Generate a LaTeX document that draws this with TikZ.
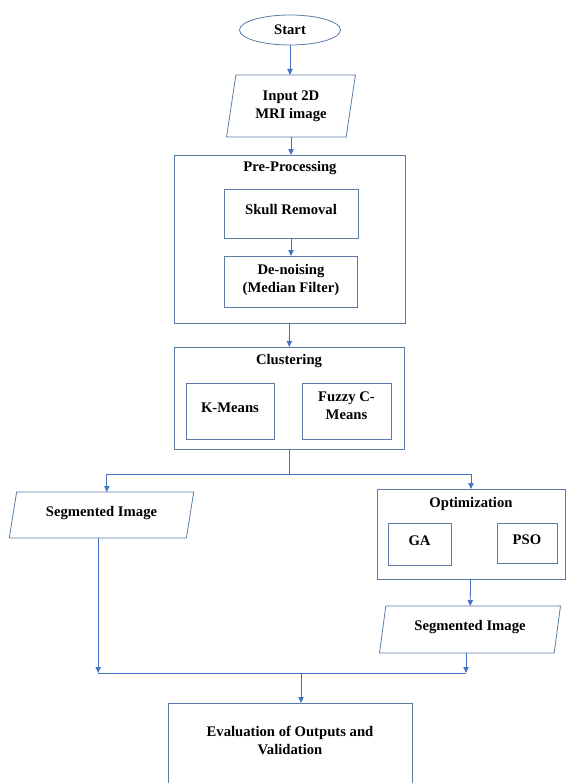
\documentclass[tikz,border=0pt]{standalone}
\usepackage{fontspec}
\setmainfont{Liberation Serif}
\usetikzlibrary{shapes.geometric,arrows.meta}
\definecolor{boxline}{HTML}{5A7BA6}
\definecolor{arrline}{HTML}{4472C4}

\begin{document}
\begin{tikzpicture}[x=0.75pt, y=-0.75pt, font=\bfseries\fontsize{11}{13.5}\selectfont,
    box/.style={draw=boxline, line width=0.6pt, rectangle, inner sep=0pt, outer sep=0pt, align=center},
    io/.style={draw=boxline, line width=0.6pt, trapezium, trapezium stretches=true, inner sep=0pt, outer sep=0pt, align=center},
    up/.style={text height=7.5pt, text depth=6pt}, % lift one-line texts a little
    arr/.style={draw=arrline, line width=0.6pt, -{Triangle[length=4.5pt,width=4pt]}},
    lnk/.style={draw=arrline, line width=0.6pt}]
    \useasboundingbox (0,0) rectangle (566,783);
    \clip (0,0) rectangle (566,783);
    % top of the chain
    \node[draw=boxline, line width=0.6pt, ellipse, inner sep=0pt, outer sep=0pt, minimum width=75.75pt, minimum height=22.5pt] (start) at (290,30) {Start};
    \node[io, trapezium left angle=79, trapezium right angle=101, minimum width=96.75pt, minimum height=46.5pt] (input) at (291,106) {Input 2D\\MRI image};
    % pre-processing block
    \node[box, minimum width=173.25pt, minimum height=126pt] (pre) at (290,239) {};
    \node (pretitle) at (290,168) {Pre-Processing};
    \node[box, up, minimum width=100.5pt, minimum height=36.75pt] (skull) at (291,213.5) {Skull Removal};
    \node[box, minimum width=99.75pt, minimum height=38.25pt] (denoise) at (291,281.5) {De-noising\\(Median Filter)\\[-9pt]\mbox{}};
    % clustering block
    \node[box, minimum width=172.5pt, minimum height=76.5pt] (clust) at (289,398) {};
    \node (clusttitle) at (289,361) {Clustering};
    \node[box, up, minimum width=66pt, minimum height=42pt] (kmeans) at (230,411) {K-Means};
    \node[box, minimum width=66.75pt, minimum height=42pt] (fuzzy) at (346.5,411) {Fuzzy C-\\Means\\[-5pt]\mbox{}};
    % two branches
    \node[io, up, trapezium left angle=75, trapezium right angle=105, minimum width=138.75pt, minimum height=34.5pt] (seg1) at (101.5,515) {Segmented Image};
    \node[box, minimum width=141pt, minimum height=67.5pt] (opt) at (471,534) {};
    \node (opttitle) at (471,504) {Optimization};
    \node[box, up, minimum width=47.25pt, minimum height=31.5pt] (ga) at (419.5,544) {GA};
    \node[box, up, minimum width=45pt, minimum height=30pt] (pso) at (527,543) {PSO};
    \node[io, up, trapezium left angle=77, trapezium right angle=103, minimum width=136.5pt, minimum height=35.25pt] (seg2) at (470,629.5) {Segmented Image};
    \node[box, minimum width=183pt, minimum height=65.25pt] (eval) at (290,746.5) {Evaluation of Outputs and\\Validation\\[-4.5pt]\mbox{}};
    % connectors
    \coordinate (split) at (289,474); \coordinate (merge) at (301,673);
    \draw[arr] (start.south) -- (start.south |- input.north);
    \draw[arr] (input.south) -- (input.south |- pre.north);
    \draw[arr] (skull) -- (denoise);
    \draw[arr] (pre) -- (clust);
    \draw[lnk] (clust.south) -- (split);
    \draw[arr] (split) -| ([xshift=4pt]seg1.north);
    \draw[arr] (split) -| (opt.north);
    \draw[arr] (opt) -- (seg2);
    \draw[arr] ([xshift=-2.5pt]seg1.south) -- ([xshift=-2.5pt]seg1.south |- merge);
    \draw[arr] ([xshift=-3pt]seg2.south) -- ([xshift=-3pt]seg2.south |- merge);
    \draw[lnk] ([xshift=-2.5pt]seg1.south |- merge) -- ([xshift=-3pt]seg2.south |- merge);
    \draw[arr] (merge) -- (merge |- eval.north);
\end{tikzpicture}
\end{document}
